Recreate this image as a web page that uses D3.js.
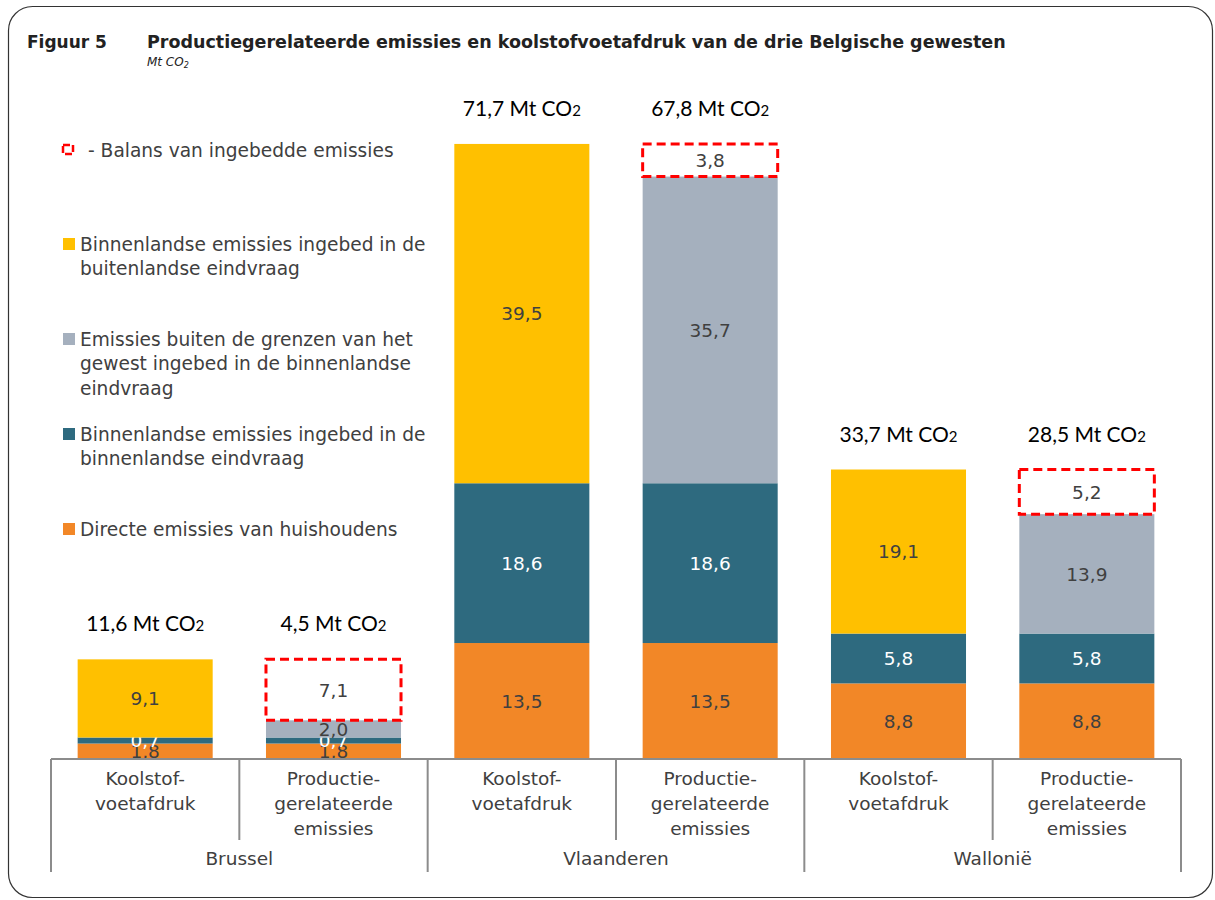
<!DOCTYPE html>
<html>
<head>
  <meta charset="utf-8">
  <title>Figuur 5</title>
  <script src="https://d3js.org/d3.v7.min.js"></script>
  <style>
    body { margin: 0; background: #fff; }
    svg text { font-family: "DejaVu Sans", sans-serif; }
  </style>
</head>
<body>
  <div id="chart"></div>
  <script>
    // gewesten en soorten staven
    var regions = ['Brussel', 'Vlaanderen', 'Wallonië'];
    var barTypes = [['Koolstof-', 'voetafdruk'], ['Productie-', 'gerelateerde', 'emissies']];

    // reeksen (Mt CO2), per staaf: Brussel KV, Brussel PE, Vlaanderen KV, ...
    var directe = [1.8, 1.8, 13.5, 13.5, 8.8, 8.8];
    var binnenBinnen = [0.7, 0.7, 18.6, 18.6, 5.8, 5.8];
    var binnenBuiten = [9.1, 0, 39.5, 0, 19.1, 0];
    var buitenGrenzen = [0, 2.0, 0, 35.7, 0, 13.9];
    var balans = [0, 7.1, 0, 3.8, 0, 5.2];
    var totals = ['11,6', '4,5', '71,7', '67,8', '33,7', '28,5'];

    var legendLabels = [
      ['- Balans van ingebedde emissies'],
      ['Binnenlandse emissies ingebed in de', 'buitenlandse eindvraag'],
      ['Emissies buiten de grenzen van het', 'gewest ingebed in de binnenlandse', 'eindvraag'],
      ['Binnenlandse emissies ingebed in de', 'binnenlandse eindvraag'],
      ['Directe emissies van huishoudens']
    ];

    var width = 1215, height = 900;
    var baseY = 759;

    var keys = ['directe', 'binnenBinnen', 'binnenBuiten', 'buitenGrenzen', 'balans'];
    var colors = {
      directe: '#F28727',
      binnenBinnen: '#2E6A7F',
      binnenBuiten: '#FFC000',
      buitenGrenzen: '#A5B0BE',
      balans: 'none'
    };
    var labelColors = {
      directe: '#404040',
      binnenBinnen: '#ffffff',
      binnenBuiten: '#404040',
      buitenGrenzen: '#404040',
      balans: '#404040'
    };

    // tabel opbouwen voor d3.stack
    var table = directe.map(function (d, i) {
      return {
        idx: i,
        directe: directe[i],
        binnenBinnen: binnenBinnen[i],
        binnenBuiten: binnenBuiten[i],
        buitenGrenzen: buitenGrenzen[i],
        balans: balans[i]
      };
    });
    var series = d3.stack().keys(keys)(table);

    var x = d3.scaleBand()
      .domain(d3.range(6))
      .range([51, 1181])
      .paddingInner(0.283)
      .paddingOuter(0.1415);

    var y = d3.scaleLinear()
      .domain([0, 72])
      .range([baseY, 140.5]);

    var svg = d3.select('#chart').append('svg')
      .attr('width', width)
      .attr('height', height);

    // kader
    svg.append('rect')
      .attr('x', 8.5).attr('y', 6.5)
      .attr('width', 1204).attr('height', 891)
      .attr('rx', 24)
      .attr('fill', 'none')
      .attr('stroke', '#333')
      .attr('stroke-width', 1.2);

    // titel
    svg.append('text')
      .attr('x', 27).attr('y', 48)
      .attr('font-size', 17).attr('font-weight', 'bold')
      .attr('fill', '#222')
      .text('Figuur 5');
    svg.append('text')
      .attr('x', 147).attr('y', 48)
      .attr('font-size', 17.5).attr('font-weight', 'bold')
      .attr('fill', '#222')
      .text('Productiegerelateerde emissies en koolstofvoetafdruk van de drie Belgische gewesten');
    var sub = svg.append('text')
      .attr('x', 147).attr('y', 66)
      .attr('font-size', 12).attr('font-style', 'italic')
      .attr('fill', '#222');
    sub.append('tspan').text('Mt CO');
    sub.append('tspan').attr('font-size', 8).attr('dy', 2).text('2');

    // staven
    var groups = svg.selectAll('g.serie')
      .data(series)
      .enter().append('g')
      .attr('class', 'serie');

    groups.selectAll('rect')
      .data(function (s) {
        return s.filter(function (d) { return d[1] - d[0] > 0; })
          .map(function (d) { d.key = s.key; return d; });
      })
      .enter().append('rect')
      .attr('x', function (d) { return x(d.data.idx); })
      .attr('y', function (d) { return y(d[1]); })
      .attr('width', x.bandwidth())
      .attr('height', function (d) { return y(d[0]) - y(d[1]); })
      .attr('fill', function (d) { return colors[d.key]; })
      .attr('stroke', function (d) { return d.key === 'balans' ? '#FF0000' : 'none'; })
      .attr('stroke-width', 3)
      .attr('stroke-dasharray', '9,5');

    // waardelabels
    groups.selectAll('text')
      .data(function (s) {
        return s.filter(function (d) { return d[1] - d[0] > 0; })
          .map(function (d) { d.key = s.key; return d; });
      })
      .enter().append('text')
      .attr('x', function (d) { return x(d.data.idx) + x.bandwidth() / 2; })
      .attr('y', function (d) { return (y(d[0]) + y(d[1])) / 2; })
      .attr('dy', '0.36em')
      .attr('text-anchor', 'middle')
      .attr('font-size', 18.5)
      .attr('fill', function (d) { return labelColors[d.key]; })
      .text(function (d) { return d3.format('.1f')(d[1] - d[0]).replace('.', ','); });

    // totalen boven de staven
    var topSerie = series[series.length - 1];
    var tot = svg.selectAll('text.total')
      .data(topSerie)
      .enter().append('text')
      .attr('class', 'total')
      .attr('x', function (d) { return x(d.data.idx) + x.bandwidth() / 2; })
      .attr('y', function (d) { return y(d[1]) - 28; })
      .attr('text-anchor', 'middle')
      .attr('fill', '#000')
      .style('font-family', 'Lato, sans-serif')
      .attr('font-size', 21);
    tot.append('tspan').text(function (d, i) { return totals[i] + ' Mt CO'; });
    tot.append('tspan').attr('font-size', 15).text('2');

    // as
    var step = x.step();
    var gap = (step - x.bandwidth()) / 2;
    var axis = svg.append('g')
      .attr('stroke', '#8c8c8c')
      .attr('stroke-width', 2);
    axis.append('line')
      .attr('x1', x(0) - gap).attr('x2', x(5) + x.bandwidth() + gap)
      .attr('y1', baseY).attr('y2', baseY);
    d3.range(7).forEach(function (i) {
      var xx = i < 6 ? x(i) - gap : x(5) + x.bandwidth() + gap;
      axis.append('line')
        .attr('x1', xx).attr('x2', xx)
        .attr('y1', baseY).attr('y2', i % 2 === 0 ? 872 : 840);
    });

    // categorie-labels
    d3.range(6).forEach(function (i) {
      var lines = barTypes[i % 2];
      svg.append('g').selectAll('text')
        .data(lines)
        .enter().append('text')
        .attr('x', x(i) + x.bandwidth() / 2)
        .attr('y', function (d, j) { return 785 + j * 25; })
        .attr('text-anchor', 'middle')
        .attr('font-size', 18.5)
        .attr('fill', '#404040')
        .text(function (d) { return d; });
    });
    regions.forEach(function (r, k) {
      svg.append('text')
        .attr('x', (x(2 * k) + x(2 * k + 1) + x.bandwidth()) / 2)
        .attr('y', 865)
        .attr('text-anchor', 'middle')
        .attr('font-size', 18.5)
        .attr('fill', '#404040')
        .text(r);
    });

    // legenda
    var legendY = [150, 244, 339, 434, 529];
    var legendKeys = ['balans', 'binnenBuiten', 'buitenGrenzen', 'binnenBinnen', 'directe'];
    var legend = svg.append('g');
    legendKeys.forEach(function (k, i) {
      if (k === 'balans') {
        legend.append('rect')
          .attr('x', 63).attr('y', legendY[i] - 5)
          .attr('width', 10).attr('height', 9)
          .attr('fill', 'none')
          .attr('stroke', '#FF0000')
          .attr('stroke-width', 2.5)
          .attr('stroke-dasharray', '7,3');
      } else {
        legend.append('rect')
          .attr('x', 63).attr('y', legendY[i] - 6)
          .attr('width', 12).attr('height', 12)
          .attr('fill', colors[k]);
      }
      legend.append('g').selectAll('text')
        .data(legendLabels[i])
        .enter().append('text')
        .attr('x', k === 'balans' ? 88 : 80)
        .attr('y', function (d, j) { return legendY[i] + j * 24.5; })
        .attr('dy', '0.36em')
        .attr('font-size', 18.6)
        .attr('fill', '#404040')
        .text(function (d) { return d; });
    });
  </script>
</body>
</html>
